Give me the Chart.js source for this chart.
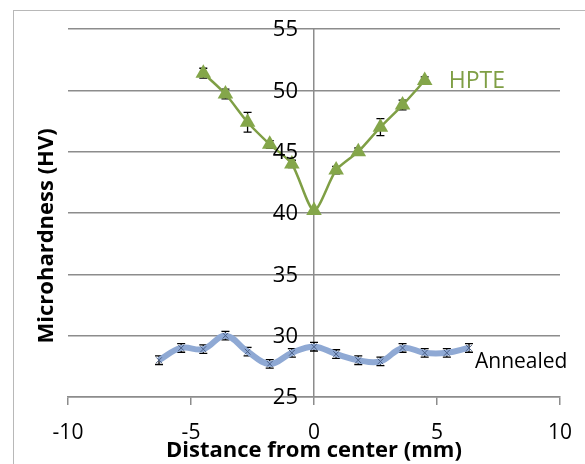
<!DOCTYPE html>
<html>
<head>
<meta charset="utf-8">
<script src="https://cdn.jsdelivr.net/npm/chart.js@4"></script>
<style>
  body { margin: 0; background: #fff; }
  #wrap { position: relative; width: 585px; height: 464px; overflow: hidden; }
  #frame { position: absolute; left: 13px; top: 10px; width: 600px; height: 500px; border: 1px solid #b8b8b8; }
  canvas { position: absolute; left: 0; top: 0; }
</style>
</head>
<body>
<div id="wrap">
  <div id="frame"></div>
  <canvas id="grafico" width="585" height="464"></canvas>
</div>
<script>
// distance from center (mm)
var hpteX = [-4.5, -3.6, -2.7, -1.8, -0.9, 0, 0.9, 1.8, 2.7, 3.6, 4.5];
var hpteY = [51.4, 49.7, 47.4, 45.6, 44.0, 40.2, 43.5, 45.0, 47.0, 48.8, 50.8];
var hpteErr = [0.4, 0.4, 0.8, 0.3, 0.3, 0.2, 0.3, 0.3, 0.7, 0.4, 0.3];

var annX = [-6.3, -5.4, -4.5, -3.6, -2.7, -1.8, -0.9, 0, 0.9, 1.8, 2.7, 3.6, 4.5, 5.4, 6.3];
var annY = [28.0, 29.0, 28.9, 30.0, 28.7, 27.7, 28.6, 29.1, 28.5, 28.0, 27.9, 29.0, 28.6, 28.6, 29.0];
var annErr = [0.35, 0.35, 0.35, 0.35, 0.35, 0.35, 0.35, 0.35, 0.35, 0.35, 0.35, 0.35, 0.35, 0.35, 0.35];

var xTicks = [-10, -5, 0, 5, 10];
var yTicks = [25, 30, 35, 40, 45, 50, 55];

function pontos(xs, ys) {
    return xs.map(function (x, i) { return { x: x, y: ys[i] }; });
}

var fonte = "'Open Sans', sans-serif";

// error bars, y labels next to the center axis, series names
var extras = {
    id: 'extras',
    beforeDatasetsDraw: function (chart) {
        var ctx = chart.ctx;
        var sx = chart.scales.x, sy = chart.scales.y;
        var erros = [hpteErr, annErr];
        ctx.save();
        ctx.strokeStyle = '#000';
        ctx.lineWidth = 1.3;
        chart.data.datasets.forEach(function (ds, d) {
            ds.data.forEach(function (p, i) {
                var px = sx.getPixelForValue(p.x);
                var top = sy.getPixelForValue(p.y + erros[d][i]);
                var bot = sy.getPixelForValue(p.y - erros[d][i]);
                ctx.beginPath();
                ctx.moveTo(px, top); ctx.lineTo(px, bot);
                ctx.moveTo(px - 4, top); ctx.lineTo(px + 4, top);
                ctx.moveTo(px - 4, bot); ctx.lineTo(px + 4, bot);
                ctx.stroke();
            });
        });
        ctx.restore();
    },
    afterDatasetsDraw: function (chart) {
        var ctx = chart.ctx;
        var sx = chart.scales.x, sy = chart.scales.y;
        ctx.save();
        ctx.textBaseline = 'middle';

        // y tick labels
        ctx.textAlign = 'right';
        ctx.fillStyle = '#000';
        ctx.font = '22px ' + fonte;
        sy.ticks.forEach(function (t) {
            ctx.fillText(String(t.value), sx.getPixelForValue(0) - 16, sy.getPixelForValue(t.value) + 1);
        });

        ctx.textAlign = 'left';
        var n = hpteX.length - 1;
        ctx.fillStyle = '#7f9f45';
        ctx.font = '23px ' + fonte;
        ctx.fillText('HPTE', sx.getPixelForValue(hpteX[n]) + 24, sy.getPixelForValue(hpteY[n]) + 1);
        var m = annX.length - 1;
        ctx.fillStyle = '#000';
        ctx.font = '21px ' + fonte;
        ctx.fillText('Annealed', sx.getPixelForValue(annX[m]) + 6, sy.getPixelForValue(annY[m]) + 14);
        ctx.restore();
    }
};

var graf = document.getElementById('grafico').getContext('2d');

var grafico = new Chart(graf, {
    type: 'scatter',
    data: {
        datasets: [{
            label: 'HPTE',
            data: pontos(hpteX, hpteY),
            showLine: true,
            borderColor: '#7f9f45',
            backgroundColor: '#84a64a',
            borderWidth: 2.5,
            tension: 0.25,
            pointStyle: 'triangle',
            pointRadius: 9,
            pointBorderWidth: 0
        }, {
            label: 'Annealed',
            data: pontos(annX, annY),
            showLine: true,
            borderColor: '#8fa9d4',
            backgroundColor: '#8fa9d4',
            borderWidth: 6,
            tension: 0.4,
            pointStyle: 'crossRot',
            pointRadius: 4,
            pointBorderColor: '#4a5f86',
            pointBorderWidth: 1
        }]
    },
    options: {
        responsive: false,
        animation: false,
        layout: {
            padding: { left: 27, right: 25, top: 29, bottom: 0 }
        },
        plugins: {
            legend: { display: false },
            tooltip: { enabled: false }
        },
        scales: {
            x: {
                type: 'linear',
                min: -10,
                max: 10,
                afterBuildTicks: function (s) { s.ticks = xTicks.map(function (v) { return { value: v }; }); },
                afterFit: function (s) { s.height = 67; s.paddingLeft = 0; s.paddingRight = 0; },
                ticks: { color: '#000', font: { family: fonte, size: 21 }, padding: 15, maxRotation: 0 },
                grid: { drawOnChartArea: false, color: '#8c8c8c', lineWidth: 1.5, tickLength: 8 },
                border: { color: '#8c8c8c', width: 1.5 },
                title: {
                    display: true,
                    text: 'Distance from center (mm)',
                    color: '#000',
                    font: { family: fonte, size: 22, weight: 'bold' },
                    padding: 0
                }
            },
            y: {
                type: 'linear',
                min: 25,
                max: 55,
                position: { x: 0 },
                afterBuildTicks: function (s) { s.ticks = yTicks.map(function (v) { return { value: v }; }); },
                ticks: { display: false },
                grid: { color: '#8c8c8c', lineWidth: 1.5, drawTicks: false },
                border: { color: '#8c8c8c', width: 1.5 }
            },
            yTitulo: {
                type: 'linear',
                position: 'left',
                min: 25,
                max: 55,
                afterFit: function (s) { s.width = 41; },
                ticks: { display: false },
                grid: { display: false },
                border: { display: false },
                title: {
                    display: true,
                    text: 'Microhardness (HV)\u00a0\u00a0\u00a0\u00a0\u00a0\u00a0\u00a0\u00a0',
                    color: '#000',
                    font: { family: fonte, size: 22, weight: 'bold' },
                    padding: { top: 7, bottom: 1 }
                }
            }
        }
    },
    plugins: [extras]
});
</script>
</body>
</html>
